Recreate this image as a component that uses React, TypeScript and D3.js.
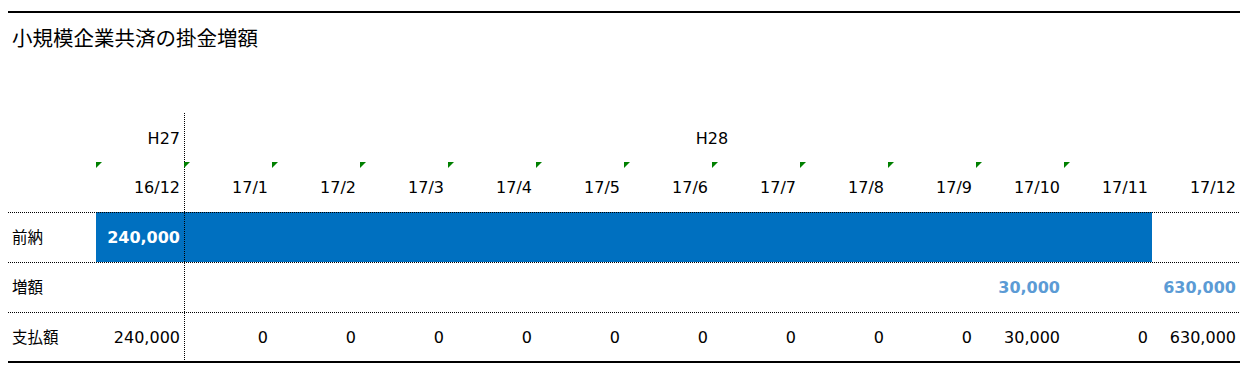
import { useEffect, useRef } from "react";
import * as d3 from "d3";

const months = ["16/12", "17/1", "17/2", "17/3", "17/4", "17/5", "17/6", "17/7", "17/8", "17/9", "17/10", "17/11", "17/12"];
const rowLabels = ["前納", "増額", "支払額"];
const prepaid = [240000, 0, 0, 0, 0, 0, 0, 0, 0, 0, 0, 0, null];
const increase = [null, null, null, null, null, null, null, null, null, null, 30000, null, 630000];
const payment = [240000, 0, 0, 0, 0, 0, 0, 0, 0, 0, 30000, 0, 630000];
const noteMonths = months.slice(0, 12);

const App = () => {
  const svgRef = useRef<SVGSVGElement>(null);

  useEffect(() => {
    const svg = d3.select(svgRef.current);
    svg.selectAll("*").remove();

    const width = 1252;
    const height = 373;
    svg.attr("width", width).attr("height", height);

    const left = 8;
    const right = 1240;
    const labelW = 88;
    const jp = "'Noto Sans CJK JP', 'DejaVu Sans', sans-serif";
    const num = "'DejaVu Sans', Verdana, sans-serif";
    const fs = "16px";
    const fmt = d3.format(",");

    const x = d3.scaleBand().domain(months).range([left + labelW, right]);
    const rows = d3.scaleBand().domain(rowLabels).range([212, 362]);

    // top rule and title
    svg.append("line").attr("x1", left).attr("x2", right).attr("y1", 12).attr("y2", 12)
      .attr("stroke", "#000").attr("stroke-width", 2);
    svg.append("text").attr("x", 12).attr("y", 46).style("font-family", jp).style("font-size", "20.5px")
      .attr("fill", "#000").text("小規模企業共済の掛金増額");

    // blue prepaid bar
    const paid = months.filter((_, i) => prepaid[i] !== null);
    svg.append("rect")
      .attr("x", x(paid[0])!)
      .attr("width", x(paid[paid.length - 1])! + x.bandwidth() - x(paid[0])!)
      .attr("y", rows("前納")!).attr("height", rows.bandwidth())
      .attr("fill", "#0070C0");

    // row separators
    rowLabels.forEach((r) => {
      svg.append("line").attr("x1", left).attr("x2", right)
        .attr("y1", rows(r)! + 0.5).attr("y2", rows(r)! + 0.5)
        .attr("stroke", "#000").attr("stroke-dasharray", "1,1");
    });
    svg.append("line").attr("x1", left).attr("x2", right).attr("y1", 362).attr("y2", 362)
      .attr("stroke", "#000").attr("stroke-width", 2);

    // fiscal year divider
    svg.append("line").attr("x1", x("17/1")! + 0.5).attr("x2", x("17/1")! + 0.5)
      .attr("y1", 113).attr("y2", 361)
      .attr("stroke", "#000").attr("stroke-dasharray", "1,1");

    // header: year labels
    svg.append("text").attr("x", x("16/12")! + x.bandwidth() - 4).attr("y", 144)
      .attr("text-anchor", "end").style("font-family", num).style("font-size", fs).text("H27");
    svg.append("text").attr("x", (x("17/1")! + right) / 2).attr("y", 144)
      .attr("text-anchor", "middle").style("font-family", num).style("font-size", fs).text("H28");

    // comment markers
    svg.selectAll(".mark").data(noteMonths).enter().append("path")
      .attr("class", "mark")
      .attr("d", (d) => { const x0 = x(d)!; return `M${x0},162 L${x0 + 6},162 L${x0},168 Z`; })
      .attr("fill", "#008000");

    // month labels
    svg.selectAll(".month").data(months).enter().append("text")
      .attr("class", "month")
      .attr("x", (d) => x(d)! + x.bandwidth() - 4).attr("y", 193)
      .attr("text-anchor", "end").style("font-family", num).style("font-size", fs)
      .text((d) => d);

    // row labels
    rowLabels.forEach((r) => {
      svg.append("text").attr("x", 12).attr("y", rows(r)! + rows.bandwidth() / 2 + 6)
        .style("font-family", jp).style("font-size", "15.5px").text(r);
    });

    const cellY = (r: string) => rows(r)! + rows.bandwidth() / 2 + 6;

    // prepaid value
    svg.append("text").attr("x", x("16/12")! + x.bandwidth() - 4).attr("y", cellY("前納"))
      .attr("text-anchor", "end").style("font-family", num).style("font-size", fs)
      .style("font-weight", "bold").attr("fill", "#fff").text(fmt(prepaid[0] as number));

    // increase values
    svg.selectAll(".inc").data(months.filter((_, i) => increase[i] !== null)).enter().append("text")
      .attr("class", "inc")
      .attr("x", (d) => x(d)! + x.bandwidth() - 4).attr("y", cellY("増額"))
      .attr("text-anchor", "end").style("font-family", num).style("font-size", fs)
      .style("font-weight", "bold").attr("fill", "#5B9BD5")
      .text((d) => fmt(increase[months.indexOf(d)] as number));

    // payment values
    svg.selectAll(".pay").data(months).enter().append("text")
      .attr("class", "pay")
      .attr("x", (d) => x(d)! + x.bandwidth() - 4).attr("y", cellY("支払額"))
      .attr("text-anchor", "end").style("font-family", num).style("font-size", fs)
      .attr("fill", "#000")
      .text((_, i) => fmt(payment[i]));
  }, []);

  return <svg ref={svgRef} style={{ position: "absolute", left: 0, top: 0 }}></svg>;
};

export default App;
